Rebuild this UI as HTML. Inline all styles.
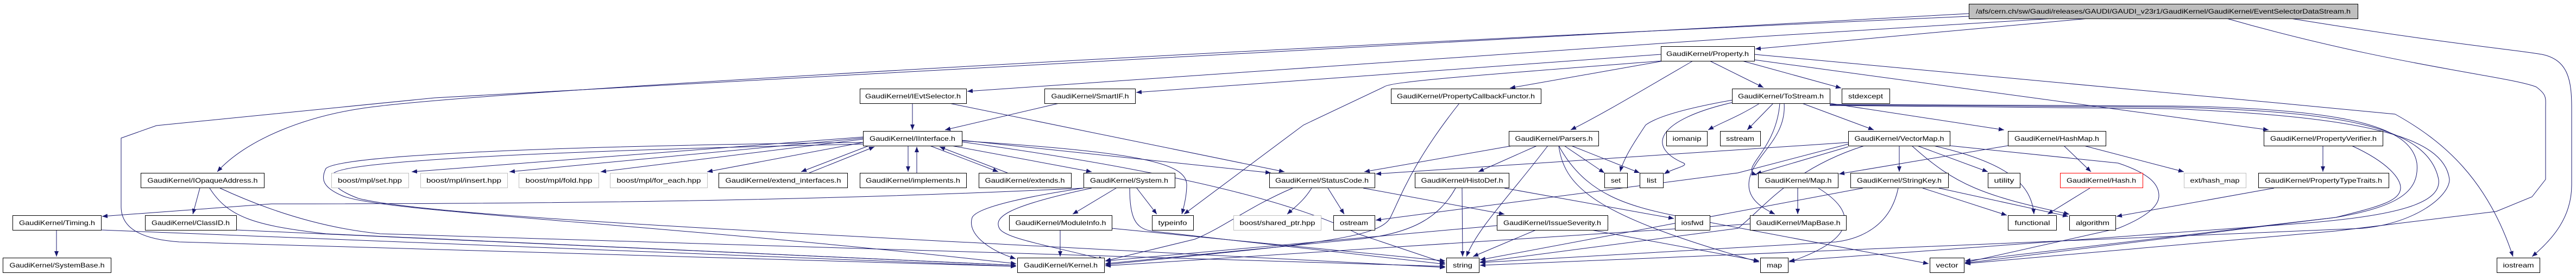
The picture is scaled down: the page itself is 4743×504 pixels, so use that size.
<!DOCTYPE html>
<html><head><meta charset="utf-8"><style>
html,body{margin:0;padding:0;background:#fff;}
svg{display:block;}
text{font-family:"Liberation Sans",sans-serif;font-size:12px;fill:#000;}
.e{fill:none;stroke:#191970;stroke-width:1;}
</style></head><body>
<svg width="4743" height="504" viewBox="0 0 4743 504" xmlns="http://www.w3.org/2000/svg">
<defs><marker id="a" markerWidth="10" markerHeight="8" refX="10" refY="4" orient="auto" markerUnits="userSpaceOnUse"><path d="M0,0 L10,4 L0,8 z" fill="#191970"/></marker></defs>
<g class="e" marker-end="url(#a)">
<!-- root -->
<path d="M3845,34 L3232,90"/>
<path d="M3780,34 C3000,80 2000,150 1781,168"/>
<path d="M3625,30 C2500,80 1000,160 700,195 C560,210 450,260 400,316"/>
<path d="M3625,25 L800,180 L288,231 L223,254 L223,380 C223,420 260,440 330,445 L1871,490"/>
<path d="M4218,34 C4500,80 4620,90 4680,100 C4730,110 4735,150 4735,200 L4735,340 C4735,400 4700,440 4662,472"/>
<path d="M4100,34 C4400,120 4620,140 4670,160 C4690,175 4687,180 4687,200 L4687,330 L4662,362 L4596,389 L4300,425 L3618,485"/>
<!-- Property -->
<path d="M3230,100 L4200,190 L4410,210 C4500,260 4580,330 4627,472"/>
<path d="M3058,100 L2092,170"/>
<path d="M3063,112 L2780,162"/>
<path d="M3117,112 C3000,180 2950,210 2892,239"/>
<path d="M3148,112 L3247,161"/>
<path d="M3208,112 L3390,162"/>
<path d="M3230,110 L4177,239"/>
<path d="M3060,112 C2700,140 2560,150 2548,160 L2400,230 L2180,394"/>
<!-- ToStream -->
<path d="M3240,190 C3200,215 3170,225 3145,239"/>
<path d="M3265,190 L3217,239"/>
<path d="M3318,190 L3450,239"/>
<path d="M3369,190 L3690,239"/>
<path d="M3190,184 C3100,200 3050,215 3030,230 C3010,260 2990,290 2983,316"/>
<path d="M3192,188 C3050,220 3030,270 3100,300 C3110,305 3080,310 3064,320"/>
<path d="M3277,190 C3270,280 3200,310 3235,322"/>
<path d="M3285,190 C3290,260 3220,290 3220,340 C3220,370 3250,385 3268,394"/>
<path d="M3369,192 L4000,195 C4350,200 4440,240 4450,300 C4455,350 4420,380 4300,400 L3618,484"/>
<path d="M3369,193 L4000,197 C4300,205 4470,230 4490,330 C4495,370 4430,395 4250,410 L3294,480"/>
<path d="M3369,194 L4000,200 C4350,215 4500,250 4510,330 C4510,360 4450,410 4350,420 L2725,488"/>
<!-- VectorMap -->
<path d="M3403,262 L2533,320"/>
<path d="M3403,265 L3200,318 L2533,405"/>
<path d="M3497,268 L3497,316"/>
<path d="M3530,268 L3660,316"/>
<path d="M3560,268 C3700,300 3740,340 3745,394"/>
<path d="M3520,268 C3600,340 3650,360 3810,394"/>
<path d="M3403,270 L3233,320"/>
<path d="M3590,268 L3900,300 C3960,320 3975,340 3975,360 C3975,380 3950,400 3900,420 L3618,483"/>
<path d="M3433,268 C3300,310 3250,380 3200,420 L2725,482"/>
<!-- HashMap -->
<path d="M3800,268 L3850,316"/>
<path d="M3837,268 L4021,316"/>
<path d="M3697,268 L3386,320"/>
<!-- Map, StringKey, Hash, PTT, PV -->
<path d="M3310,346 L3310,394"/>
<path d="M3348,346 C3420,390 3420,440 3294,482"/>
<path d="M3540,346 L3695,396"/>
<path d="M3570,346 L3808,398"/>
<path d="M3430,346 L2725,478"/>
<path d="M3495,346 C3480,420 3420,440 3380,445 L2725,483"/>
<path d="M3848,346 L3770,394"/>
<path d="M4187,346 L3897,398"/>
<path d="M4277,268 L4277,316"/>
<path d="M4330,268 C4400,300 4420,330 4420,345 C4420,370 4380,380 4300,400 L3618,480"/>
<path d="M3222,412 L2035,489"/>
<!-- Parsers etc -->
<path d="M2785,268 L2512,316"/>
<path d="M2830,268 L2722,316"/>
<path d="M2850,268 C2780,360 2720,420 2700,472"/>
<path d="M2880,268 L2954,318"/>
<path d="M2893,268 L3019,318"/>
<path d="M2870,268 C2880,350 2950,400 3239,482"/>
<path d="M2870,268 C2920,360 3000,380 3100,400 L3551,485"/>
<path d="M2692,346 L2693,472"/>
<path d="M2770,346 L3082,402"/>
<path d="M2680,346 C2650,400 2600,430 2500,440 L2035,485"/>
<path d="M2828,423 L2712,472"/>
<path d="M2756,415 L2035,480"/>
<path d="M2930,423 L3239,480"/>
<path d="M2445,346 L2475,394"/>
<path d="M2510,346 L2770,394"/>
<path d="M2415,346 C2400,370 2385,380 2370,394"/>
<path d="M2380,346 C2300,380 2250,420 2200,440 L2035,480"/>
<path d="M2687,190 C2600,300 2580,360 2560,400 C2540,440 2400,450 2035,487"/>
<!-- IEvtSelector, SmartIF, IInterface -->
<path d="M1680,190 L1680,239"/>
<path d="M1748,190 L2365,316"/>
<path d="M1950,190 L1740,239"/>
<path d="M1589,252 L758,316"/>
<path d="M1589,254 L938,316"/>
<path d="M1589,256 L1106,316"/>
<path d="M1589,262 L1302,316"/>
<path d="M1600,268 L1475,316"/>
<path d="M1490,318 L1610,270"/>
<path d="M1672,268 L1672,316"/>
<path d="M1688,318 L1688,270"/>
<path d="M1712,268 L1838,316"/>
<path d="M1855,318 L1730,270"/>
<path d="M1752,268 L2010,316"/>
<path d="M1771,259 C2100,280 2185,300 2185,340 C2185,360 2180,380 2176,394"/>
<path d="M1771,258 L2340,318"/>
<path d="M1771,261 C2200,320 2400,380 2500,430 L2661,484"/>
<path d="M1589,262 C900,270 620,290 600,310 C590,330 595,345 630,360 C700,390 1200,410 1871,485"/>
<path d="M1589,265 C900,280 640,300 615,318 C605,335 620,350 660,365 C800,400 1500,430 2661,492"/>
<!-- IOpaque, Timing, ClassID, System, ModuleInfo -->
<path d="M368,346 L355,394"/>
<path d="M386,346 C420,400 470,415 600,430 L1871,488"/>
<path d="M405,346 C500,390 600,420 700,430 L2661,490"/>
<path d="M104,423 L104,472"/>
<path d="M186,423 L1871,490"/>
<path d="M435,423 L1871,488"/>
<path d="M1995,346 C1500,370 1000,375 500,375 L188,398"/>
<path d="M2055,346 L1975,394"/>
<path d="M2093,346 L2130,394"/>
<path d="M1995,346 C1900,360 1800,380 1790,400 C1780,430 1820,460 1870,476"/>
<path d="M2010,346 C1850,380 1830,400 1840,420 C1850,440 1950,455 2033,478"/>
<path d="M2080,346 C2080,400 2090,420 2120,425 L2661,486"/>
<path d="M1952,423 L1952,472"/>
<path d="M2047,420 L2661,480"/>
</g>
<g stroke-width="1">
<!-- nodes: rect + text -->
<rect x="3625.5" y="7.5" width="716" height="27" fill="#bfbfbf" stroke="#000"/><text x="3983" y="25" text-anchor="middle" textLength="690" lengthAdjust="spacingAndGlyphs">/afs/cern.ch/sw/Gaudi/releases/GAUDI/GAUDI_v23r1/GaudiKernel/GaudiKernel/EventSelectorDataStream.h</text>
<rect x="3058.5" y="85.5" width="172" height="27" fill="#fff" stroke="#000"/><text x="3144" y="103" text-anchor="middle" textLength="152" lengthAdjust="spacingAndGlyphs">GaudiKernel/Property.h</text>

<rect x="1583.5" y="163.5" width="196" height="27" fill="#fff" stroke="#000"/><text x="1681" y="181" text-anchor="middle" textLength="176" lengthAdjust="spacingAndGlyphs">GaudiKernel/IEvtSelector.h</text>
<rect x="1923.5" y="163.5" width="167" height="27" fill="#fff" stroke="#000"/><text x="2007" y="181" text-anchor="middle" textLength="143" lengthAdjust="spacingAndGlyphs">GaudiKernel/SmartIF.h</text>
<rect x="2561.5" y="163.5" width="276" height="27" fill="#fff" stroke="#000"/><text x="2699" y="181" text-anchor="middle" textLength="254" lengthAdjust="spacingAndGlyphs">GaudiKernel/PropertyCallbackFunctor.h</text>
<rect x="3189.5" y="163.5" width="180" height="27" fill="#fff" stroke="#000"/><text x="3279" y="181" text-anchor="middle" textLength="158" lengthAdjust="spacingAndGlyphs">GaudiKernel/ToStream.h</text>
<rect x="3391.5" y="163.5" width="88" height="27" fill="#fff" stroke="#000"/><text x="3435" y="181" text-anchor="middle" textLength="64" lengthAdjust="spacingAndGlyphs">stdexcept</text>

<rect x="1589.5" y="241.5" width="182" height="27" fill="#fff" stroke="#000"/><text x="1680" y="259" text-anchor="middle" textLength="158" lengthAdjust="spacingAndGlyphs">GaudiKernel/IInterface.h</text>
<rect x="2778.5" y="241.5" width="165" height="27" fill="#fff" stroke="#000"/><text x="2861" y="259" text-anchor="middle" textLength="143" lengthAdjust="spacingAndGlyphs">GaudiKernel/Parsers.h</text>
<rect x="3068.5" y="241.5" width="75" height="27" fill="#fff" stroke="#000"/><text x="3106" y="259" text-anchor="middle" textLength="53" lengthAdjust="spacingAndGlyphs">iomanip</text>
<rect x="3167.5" y="241.5" width="74" height="27" fill="#fff" stroke="#000"/><text x="3204" y="259" text-anchor="middle" textLength="52" lengthAdjust="spacingAndGlyphs">sstream</text>
<rect x="3403.5" y="241.5" width="187" height="27" fill="#fff" stroke="#000"/><text x="3497" y="259" text-anchor="middle" textLength="165" lengthAdjust="spacingAndGlyphs">GaudiKernel/VectorMap.h</text>
<rect x="3697.5" y="241.5" width="180" height="27" fill="#fff" stroke="#000"/><text x="3787" y="259" text-anchor="middle" textLength="156" lengthAdjust="spacingAndGlyphs">GaudiKernel/HashMap.h</text>
<rect x="4168.5" y="241.5" width="219" height="27" fill="#fff" stroke="#000"/><text x="4278" y="259" text-anchor="middle" textLength="196" lengthAdjust="spacingAndGlyphs">GaudiKernel/PropertyVerifier.h</text>

<rect x="259.5" y="318.5" width="227" height="27" fill="#fff" stroke="#000"/><text x="373" y="336" text-anchor="middle" textLength="203" lengthAdjust="spacingAndGlyphs">GaudiKernel/IOpaqueAddress.h</text>
<rect x="610.5" y="318.5" width="142" height="27" fill="#fff" stroke="#bfbfbf"/><text x="681" y="336" text-anchor="middle" textLength="118" lengthAdjust="spacingAndGlyphs">boost/mpl/set.hpp</text>
<rect x="774.5" y="318.5" width="160" height="27" fill="#fff" stroke="#bfbfbf"/><text x="854" y="336" text-anchor="middle" textLength="138" lengthAdjust="spacingAndGlyphs">boost/mpl/insert.hpp</text>
<rect x="955.5" y="318.5" width="147" height="27" fill="#fff" stroke="#bfbfbf"/><text x="1029" y="336" text-anchor="middle" textLength="123" lengthAdjust="spacingAndGlyphs">boost/mpl/fold.hpp</text>
<rect x="1123.5" y="318.5" width="179" height="27" fill="#fff" stroke="#bfbfbf"/><text x="1213" y="336" text-anchor="middle" textLength="155" lengthAdjust="spacingAndGlyphs">boost/mpl/for_each.hpp</text>
<rect x="1323.5" y="318.5" width="237" height="27" fill="#fff" stroke="#000"/><text x="1442" y="336" text-anchor="middle" textLength="213" lengthAdjust="spacingAndGlyphs">GaudiKernel/extend_interfaces.h</text>
<rect x="1583.5" y="318.5" width="196" height="27" fill="#fff" stroke="#000"/><text x="1681" y="336" text-anchor="middle" textLength="174" lengthAdjust="spacingAndGlyphs">GaudiKernel/implements.h</text>
<rect x="1802.5" y="318.5" width="170" height="27" fill="#fff" stroke="#000"/><text x="1887" y="336" text-anchor="middle" textLength="147" lengthAdjust="spacingAndGlyphs">GaudiKernel/extends.h</text>
<rect x="1995.5" y="318.5" width="168" height="27" fill="#fff" stroke="#000"/><text x="2079" y="336" text-anchor="middle" textLength="144" lengthAdjust="spacingAndGlyphs">GaudiKernel/System.h</text>
<rect x="2337.5" y="318.5" width="194" height="27" fill="#fff" stroke="#000"/><text x="2434" y="336" text-anchor="middle" textLength="172" lengthAdjust="spacingAndGlyphs">GaudiKernel/StatusCode.h</text>
<rect x="2605.5" y="318.5" width="173" height="27" fill="#fff" stroke="#000"/><text x="2692" y="336" text-anchor="middle" textLength="151" lengthAdjust="spacingAndGlyphs">GaudiKernel/HistoDef.h</text>
<rect x="2954.5" y="318.5" width="42" height="27" fill="#fff" stroke="#000"/><text x="2975" y="336" text-anchor="middle" textLength="18" lengthAdjust="spacingAndGlyphs">set</text>
<rect x="3019.5" y="318.5" width="43" height="27" fill="#fff" stroke="#000"/><text x="3041" y="336" text-anchor="middle" textLength="18" lengthAdjust="spacingAndGlyphs">list</text>
<rect x="3237.5" y="318.5" width="147" height="27" fill="#fff" stroke="#000"/><text x="3311" y="336" text-anchor="middle" textLength="123" lengthAdjust="spacingAndGlyphs">GaudiKernel/Map.h</text>
<rect x="3407.5" y="318.5" width="180" height="27" fill="#fff" stroke="#000"/><text x="3497" y="336" text-anchor="middle" textLength="156" lengthAdjust="spacingAndGlyphs">GaudiKernel/StringKey.h</text>
<rect x="3660.5" y="318.5" width="59" height="27" fill="#fff" stroke="#000"/><text x="3690" y="336" text-anchor="middle" textLength="37" lengthAdjust="spacingAndGlyphs">utility</text>
<rect x="3793.5" y="318.5" width="152" height="27" fill="#fff" stroke="#ff0000"/><text x="3869" y="336" text-anchor="middle" textLength="128" lengthAdjust="spacingAndGlyphs">GaudiKernel/Hash.h</text>
<rect x="4021.5" y="318.5" width="114" height="27" fill="#fff" stroke="#bfbfbf"/><text x="4078" y="336" text-anchor="middle" textLength="91" lengthAdjust="spacingAndGlyphs">ext/hash_map</text>
<rect x="4158.5" y="318.5" width="240" height="27" fill="#fff" stroke="#000"/><text x="4278" y="336" text-anchor="middle" textLength="216" lengthAdjust="spacingAndGlyphs">GaudiKernel/PropertyTypeTraits.h</text>

<rect x="23.5" y="396.5" width="163" height="27" fill="#fff" stroke="#000"/><text x="105" y="414" text-anchor="middle" textLength="140" lengthAdjust="spacingAndGlyphs">GaudiKernel/Timing.h</text>
<rect x="267.5" y="396.5" width="168" height="27" fill="#fff" stroke="#000"/><text x="351" y="414" text-anchor="middle" textLength="144" lengthAdjust="spacingAndGlyphs">GaudiKernel/ClassID.h</text>
<rect x="1858.5" y="396.5" width="189" height="27" fill="#fff" stroke="#000"/><text x="1953" y="414" text-anchor="middle" textLength="167" lengthAdjust="spacingAndGlyphs">GaudiKernel/ModuleInfo.h</text>
<rect x="2121.5" y="396.5" width="76" height="27" fill="#fff" stroke="#000"/><text x="2159" y="414" text-anchor="middle" textLength="53" lengthAdjust="spacingAndGlyphs">typeinfo</text>
<rect x="2271.5" y="396.5" width="161" height="27" fill="#fff" stroke="#bfbfbf"/><text x="2352" y="414" text-anchor="middle" textLength="139" lengthAdjust="spacingAndGlyphs">boost/shared_ptr.hpp</text>
<rect x="2455.5" y="396.5" width="76" height="27" fill="#fff" stroke="#000"/><text x="2493" y="414" text-anchor="middle" textLength="52" lengthAdjust="spacingAndGlyphs">ostream</text>
<rect x="2756.5" y="396.5" width="204" height="27" fill="#fff" stroke="#000"/><text x="2858" y="414" text-anchor="middle" textLength="180" lengthAdjust="spacingAndGlyphs">GaudiKernel/IssueSeverity.h</text>
<rect x="3084.5" y="396.5" width="64" height="27" fill="#fff" stroke="#000"/><text x="3116" y="414" text-anchor="middle" textLength="41" lengthAdjust="spacingAndGlyphs">iosfwd</text>
<rect x="3222.5" y="396.5" width="177" height="27" fill="#fff" stroke="#000"/><text x="3311" y="414" text-anchor="middle" textLength="155" lengthAdjust="spacingAndGlyphs">GaudiKernel/MapBase.h</text>
<rect x="3697.5" y="396.5" width="89" height="27" fill="#fff" stroke="#000"/><text x="3742" y="414" text-anchor="middle" textLength="65" lengthAdjust="spacingAndGlyphs">functional</text>
<rect x="3810.5" y="396.5" width="85" height="27" fill="#fff" stroke="#000"/><text x="3853" y="414" text-anchor="middle" textLength="62" lengthAdjust="spacingAndGlyphs">algorithm</text>

<rect x="5.5" y="474.5" width="199" height="27" fill="#fff" stroke="#000"/><text x="105" y="492" text-anchor="middle" textLength="175" lengthAdjust="spacingAndGlyphs">GaudiKernel/SystemBase.h</text>
<rect x="1873.5" y="474.5" width="160" height="27" fill="#fff" stroke="#000"/><text x="1953" y="492" text-anchor="middle" textLength="136" lengthAdjust="spacingAndGlyphs">GaudiKernel/Kernel.h</text>
<rect x="2663.5" y="474.5" width="60" height="27" fill="#fff" stroke="#000"/><text x="2693" y="492" text-anchor="middle" textLength="36" lengthAdjust="spacingAndGlyphs">string</text>
<rect x="3241.5" y="474.5" width="51" height="27" fill="#fff" stroke="#000"/><text x="3267" y="492" text-anchor="middle" textLength="28" lengthAdjust="spacingAndGlyphs">map</text>
<rect x="3553.5" y="474.5" width="63" height="27" fill="#fff" stroke="#000"/><text x="3585" y="492" text-anchor="middle" textLength="41" lengthAdjust="spacingAndGlyphs">vector</text>
<rect x="4597.5" y="474.5" width="79" height="27" fill="#fff" stroke="#000"/><text x="4637" y="492" text-anchor="middle" textLength="57" lengthAdjust="spacingAndGlyphs">iostream</text>
</g>
</svg>
</body></html>
